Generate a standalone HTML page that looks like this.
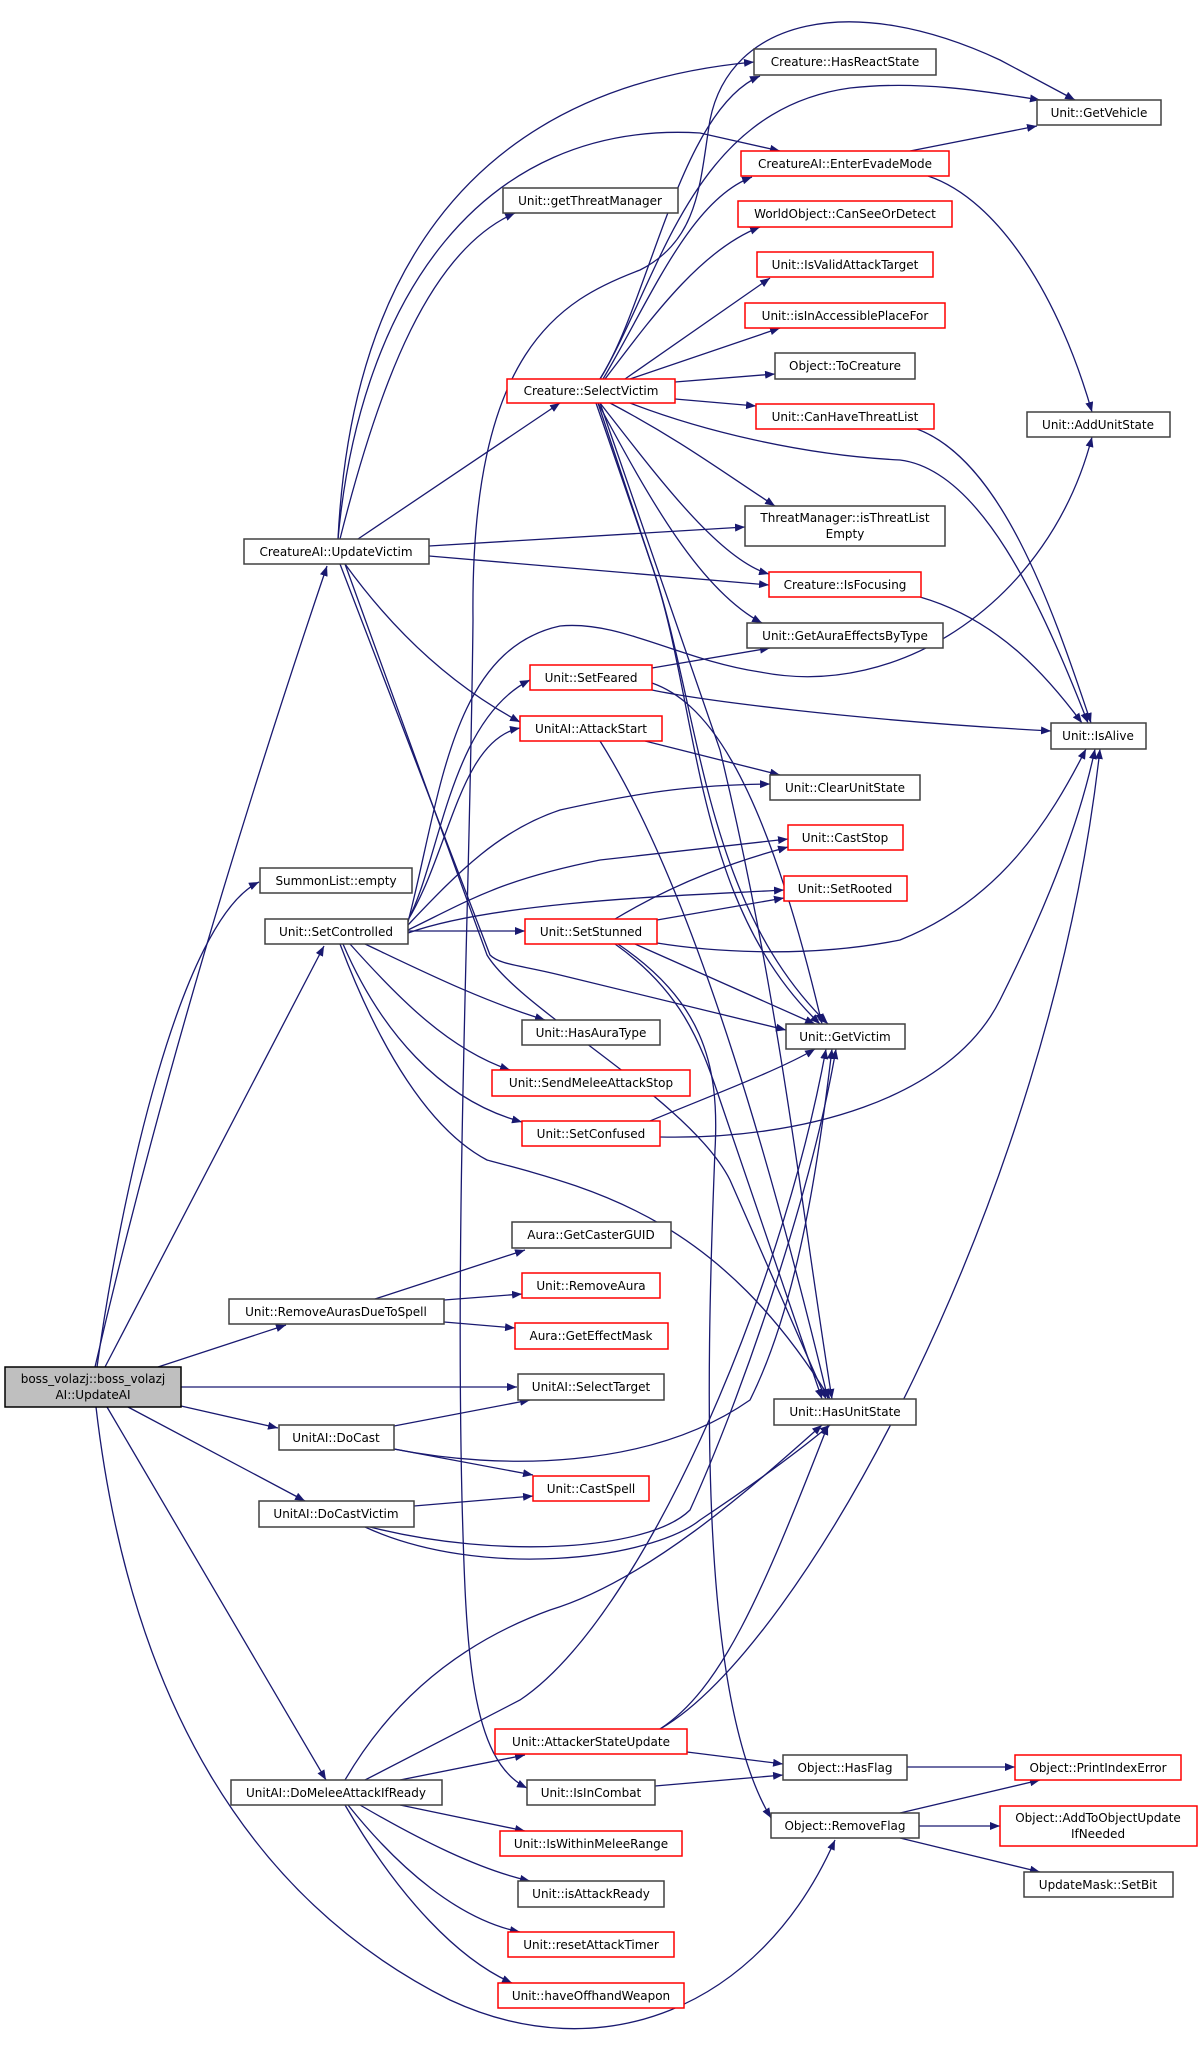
<!DOCTYPE html>
<html><head><meta charset="utf-8"><style>
html,body{margin:0;padding:0;background:#fff}
svg{display:block}
text{font-family:"DejaVu Sans","Liberation Sans",sans-serif;font-size:12px;fill:#000}
.e{fill:none;stroke:#191970;stroke-width:1.3}
.n{fill:#fff;stroke:#404040;stroke-width:1.5}
.r{fill:#fff;stroke:#ff0000;stroke-width:1.5}
</style></head><body>
<svg width="1203" height="2052" viewBox="0 0 1203 2052" xmlns="http://www.w3.org/2000/svg">
<defs><marker id="a" markerWidth="10" markerHeight="8" refX="10" refY="4" orient="auto" markerUnits="userSpaceOnUse"><path d="M0,0 L10,4 L0,8 z" fill="#191970"/></marker></defs>
<g class="e" marker-end="url(#a)">
<path d="M95,1367 Q180,1000 327,566"/>
<path d="M97,1367 C120,1200 180,920 259,882"/>
<path d="M105,1367 L324,946"/>
<path d="M158,1367 L286,1325"/>
<path d="M181,1387 L517,1387"/>
<path d="M181,1406 L278,1428"/>
<path d="M128,1407 L305,1501"/>
<path d="M107,1407 L326,1780"/>
<path d="M96,1407 C130,1700 250,1900 450,2000 C600,2070 760,2010 835,1840"/>
<path d="M338,539 C350,300 450,90 754,62"/>
<path d="M338,539 C360,300 480,120 700,133 L780,151"/>
<path d="M340,539 C380,380 430,250 515,213"/>
<path d="M358,539 L560,403"/>
<path d="M429,546 L745,527"/>
<path d="M429,556 L769,585"/>
<path d="M345,564 C400,640 460,690 520,722"/>
<path d="M340,564 L490,955 C500,965 520,965 560,975 L786,1030"/>
<path d="M345,564 L487,955 C520,1010 690,1100 730,1180 L826,1399"/>
<path d="M473,620 C470,350 560,300 640,270 C700,240 700,180 710,120 C730,20 850,-10 1000,60 L1075,100"/>
<path d="M473,620 C470,900 455,1200 462,1500 C466,1650 470,1760 527,1788"/>
<path d="M600,379 C650,300 680,110 760,76"/>
<path d="M600,379 C660,280 690,110 850,88 C920,80 990,92 1040,100"/>
<path d="M603,379 C650,300 690,200 752,177"/>
<path d="M605,379 C650,320 700,250 760,227"/>
<path d="M625,379 L770,278"/>
<path d="M630,379 L780,328"/>
<path d="M675,382 L775,374"/>
<path d="M675,399 L756,406"/>
<path d="M630,403 C700,430 800,455 900,460 C980,470 1040,600 1088,723"/>
<path d="M610,403 C680,440 720,470 775,506"/>
<path d="M600,403 C660,480 720,560 769,574"/>
<path d="M598,403 C650,500 700,590 762,623"/>
<path d="M598,403 L650,560 C700,700 690,900 820,1024"/>
<path d="M596,403 L650,560 C700,700 700,900 828,1024"/>
<path d="M600,403 L720,750 C780,1000 800,1200 832,1399"/>
<path d="M917,429 C1000,460 1050,600 1091,723"/>
<path d="M920,597 C1000,620 1050,680 1082,723"/>
<path d="M910,151 L1037,126"/>
<path d="M928,176 C1000,200 1060,300 1092,412"/>
<path d="M652,668 L770,648"/>
<path d="M652,690 C700,700 850,720 1051,731"/>
<path d="M652,683 C700,700 760,760 822,1024"/>
<path d="M645,741 L780,775"/>
<path d="M600,741 C700,900 780,1200 828,1399"/>
<path d="M408,920 C440,860 450,720 530,680"/>
<path d="M408,920 C450,850 460,740 520,728"/>
<path d="M408,922 C440,800 450,650 560,626 C620,620 680,660 760,672 C900,700 1050,600 1092,437"/>
<path d="M408,925 C460,870 500,830 560,810 C650,790 700,785 770,784"/>
<path d="M408,930 C470,900 500,880 600,860 L788,839"/>
<path d="M408,933 C500,900 700,895 784,890"/>
<path d="M408,931 L525,931"/>
<path d="M365,944 C420,970 480,1000 545,1020"/>
<path d="M350,944 C400,1000 450,1050 510,1070"/>
<path d="M343,944 C380,1030 440,1100 522,1122"/>
<path d="M340,944 C380,1050 430,1130 487,1160 C600,1190 720,1220 830,1399"/>
<path d="M615,919 C680,880 740,860 788,847"/>
<path d="M657,920 L784,898"/>
<path d="M657,943 C700,950 800,960 900,940 C1000,900 1050,820 1086,749"/>
<path d="M635,944 L815,1024"/>
<path d="M615,944 C680,990 700,1040 720,1100 L822,1399"/>
<path d="M618,944 C700,1000 720,1060 715,1150 C705,1400 700,1700 771,1818"/>
<path d="M650,1121 C700,1100 780,1070 815,1049"/>
<path d="M660,1137 C800,1140 950,1100 1000,1000 C1050,900 1080,820 1095,749"/>
<path d="M375,1299 L525,1250"/>
<path d="M444,1300 L522,1294"/>
<path d="M444,1322 L515,1328"/>
<path d="M394,1426 L530,1400"/>
<path d="M394,1449 L533,1475"/>
<path d="M394,1449 C500,1470 650,1470 750,1400 C800,1300 820,1150 832,1049"/>
<path d="M414,1506 L533,1496"/>
<path d="M370,1527 C500,1560 650,1550 690,1510 C740,1400 810,1200 836,1049"/>
<path d="M365,1527 C480,1580 650,1560 700,1520 C760,1480 800,1450 830,1425"/>
<path d="M345,1780 C380,1720 440,1650 550,1610 C650,1580 760,1480 822,1425"/>
<path d="M365,1780 L520,1700 C640,1620 780,1300 826,1049"/>
<path d="M400,1780 L525,1755"/>
<path d="M400,1805 L525,1831"/>
<path d="M360,1805 C420,1840 480,1870 530,1881"/>
<path d="M348,1805 C400,1870 460,1920 520,1932"/>
<path d="M345,1805 C400,1900 460,1960 512,1983"/>
<path d="M687,1752 L783,1764"/>
<path d="M660,1729 C800,1650 1050,1200 1100,749"/>
<path d="M660,1729 C720,1690 760,1600 828,1425"/>
<path d="M655,1786 L783,1775"/>
<path d="M907,1767 L1015,1767"/>
<path d="M900,1813 L1040,1780"/>
<path d="M919,1826 L1000,1826"/>
<path d="M900,1838 L1040,1872"/>
</g>
<rect x="5" y="1367" width="176" height="40" fill="#bfbfbf" stroke="#000" stroke-width="1.5"/>
<text x="93" y="1383" text-anchor="middle">boss_volazj::boss_volazj</text>
<text x="93" y="1399" text-anchor="middle">AI::UpdateAI</text>
<g>
<rect class="n" x="244" y="539" width="185" height="25"/><text x="336" y="556" text-anchor="middle">CreatureAI::UpdateVictim</text>
<rect class="n" x="260" y="868" width="152" height="25"/><text x="336" y="885" text-anchor="middle">SummonList::empty</text>
<rect class="n" x="265" y="919" width="143" height="25"/><text x="336" y="936" text-anchor="middle">Unit::SetControlled</text>
<rect class="n" x="229" y="1299" width="215" height="25"/><text x="336" y="1316" text-anchor="middle">Unit::RemoveAurasDueToSpell</text>
<rect class="n" x="279" y="1425" width="115" height="25"/><text x="336" y="1442" text-anchor="middle">UnitAI::DoCast</text>
<rect class="n" x="259" y="1501" width="155" height="26"/><text x="336" y="1518" text-anchor="middle">UnitAI::DoCastVictim</text>
<rect class="n" x="231" y="1780" width="211" height="25"/><text x="336" y="1797" text-anchor="middle">UnitAI::DoMeleeAttackIfReady</text>
<rect class="n" x="754" y="49" width="182" height="26"/><text x="845" y="66" text-anchor="middle">Creature::HasReactState</text>
<rect class="n" x="1037" y="100" width="124" height="25"/><text x="1099" y="117" text-anchor="middle">Unit::GetVehicle</text>
<rect class="r" x="741" y="151" width="208" height="25"/><text x="845" y="168" text-anchor="middle">CreatureAI::EnterEvadeMode</text>
<rect class="r" x="738" y="201" width="214" height="26"/><text x="845" y="218" text-anchor="middle">WorldObject::CanSeeOrDetect</text>
<rect class="r" x="757" y="252" width="176" height="25"/><text x="845" y="269" text-anchor="middle">Unit::IsValidAttackTarget</text>
<rect class="r" x="745" y="303" width="200" height="25"/><text x="845" y="320" text-anchor="middle">Unit::isInAccessiblePlaceFor</text>
<rect class="n" x="775" y="353" width="140" height="26"/><text x="845" y="370" text-anchor="middle">Object::ToCreature</text>
<rect class="r" x="756" y="404" width="178" height="25"/><text x="845" y="421" text-anchor="middle">Unit::CanHaveThreatList</text>
<rect class="n" x="1027" y="412" width="143" height="25"/><text x="1098" y="429" text-anchor="middle">Unit::AddUnitState</text>
<rect class="n" x="503" y="188" width="175" height="25"/><text x="590" y="205" text-anchor="middle">Unit::getThreatManager</text>
<rect class="r" x="507" y="379" width="168" height="24"/><text x="591" y="395" text-anchor="middle">Creature::SelectVictim</text>
<rect class="n" x="745" y="506" width="200" height="40"/><text x="845" y="522" text-anchor="middle">ThreatManager::isThreatList</text><text x="845" y="538" text-anchor="middle">Empty</text>
<rect class="r" x="769" y="572" width="152" height="25"/><text x="845" y="589" text-anchor="middle">Creature::IsFocusing</text>
<rect class="n" x="747" y="623" width="196" height="25"/><text x="845" y="640" text-anchor="middle">Unit::GetAuraEffectsByType</text>
<rect class="r" x="530" y="665" width="122" height="25"/><text x="591" y="682" text-anchor="middle">Unit::SetFeared</text>
<rect class="r" x="520" y="716" width="142" height="25"/><text x="591" y="733" text-anchor="middle">UnitAI::AttackStart</text>
<rect class="n" x="1051" y="723" width="95" height="26"/><text x="1098" y="740" text-anchor="middle">Unit::IsAlive</text>
<rect class="r" x="525" y="919" width="132" height="25"/><text x="591" y="936" text-anchor="middle">Unit::SetStunned</text>
<rect class="n" x="522" y="1020" width="138" height="25"/><text x="591" y="1037" text-anchor="middle">Unit::HasAuraType</text>
<rect class="r" x="492" y="1070" width="198" height="26"/><text x="591" y="1087" text-anchor="middle">Unit::SendMeleeAttackStop</text>
<rect class="r" x="522" y="1121" width="138" height="25"/><text x="591" y="1138" text-anchor="middle">Unit::SetConfused</text>
<rect class="n" x="770" y="775" width="150" height="25"/><text x="845" y="792" text-anchor="middle">Unit::ClearUnitState</text>
<rect class="r" x="788" y="825" width="115" height="25"/><text x="845" y="842" text-anchor="middle">Unit::CastStop</text>
<rect class="r" x="784" y="876" width="123" height="25"/><text x="845" y="893" text-anchor="middle">Unit::SetRooted</text>
<rect class="n" x="786" y="1024" width="119" height="25"/><text x="845" y="1041" text-anchor="middle">Unit::GetVictim</text>
<rect class="n" x="512" y="1222" width="159" height="26"/><text x="591" y="1239" text-anchor="middle">Aura::GetCasterGUID</text>
<rect class="r" x="522" y="1273" width="138" height="25"/><text x="591" y="1290" text-anchor="middle">Unit::RemoveAura</text>
<rect class="r" x="515" y="1323" width="153" height="26"/><text x="591" y="1340" text-anchor="middle">Aura::GetEffectMask</text>
<rect class="n" x="518" y="1374" width="146" height="26"/><text x="591" y="1391" text-anchor="middle">UnitAI::SelectTarget</text>
<rect class="r" x="533" y="1476" width="116" height="25"/><text x="591" y="1493" text-anchor="middle">Unit::CastSpell</text>
<rect class="n" x="774" y="1399" width="142" height="26"/><text x="845" y="1416" text-anchor="middle">Unit::HasUnitState</text>
<rect class="r" x="495" y="1729" width="192" height="25"/><text x="591" y="1746" text-anchor="middle">Unit::AttackerStateUpdate</text>
<rect class="n" x="527" y="1780" width="128" height="25"/><text x="591" y="1797" text-anchor="middle">Unit::IsInCombat</text>
<rect class="r" x="500" y="1831" width="182" height="25"/><text x="591" y="1848" text-anchor="middle">Unit::IsWithinMeleeRange</text>
<rect class="n" x="518" y="1881" width="146" height="26"/><text x="591" y="1898" text-anchor="middle">Unit::isAttackReady</text>
<rect class="r" x="508" y="1932" width="166" height="25"/><text x="591" y="1949" text-anchor="middle">Unit::resetAttackTimer</text>
<rect class="r" x="498" y="1983" width="186" height="25"/><text x="591" y="2000" text-anchor="middle">Unit::haveOffhandWeapon</text>
<rect class="n" x="783" y="1755" width="124" height="25"/><text x="845" y="1772" text-anchor="middle">Object::HasFlag</text>
<rect class="r" x="1015" y="1755" width="166" height="25"/><text x="1098" y="1772" text-anchor="middle">Object::PrintIndexError</text>
<rect class="n" x="771" y="1813" width="148" height="25"/><text x="845" y="1830" text-anchor="middle">Object::RemoveFlag</text>
<rect class="r" x="1000" y="1806" width="197" height="40"/><text x="1098" y="1822" text-anchor="middle">Object::AddToObjectUpdate</text><text x="1098" y="1838" text-anchor="middle">IfNeeded</text>
<rect class="n" x="1024" y="1872" width="149" height="25"/><text x="1098" y="1889" text-anchor="middle">UpdateMask::SetBit</text>
</g>
</svg>
</body></html>
